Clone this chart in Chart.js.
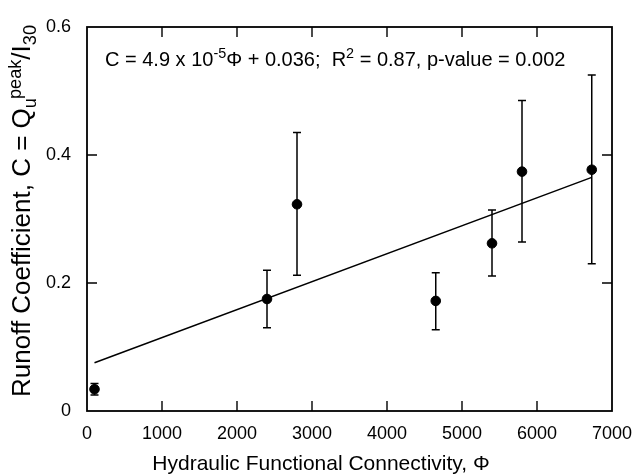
<!DOCTYPE html>
<html>
<head>
<meta charset="utf-8">
<script src="https://cdn.jsdelivr.net/npm/chart.js@4/dist/chart.umd.min.js"></script>
<style>
html, body { margin: 0; padding: 0; background: #fff; }
#wrap { width: 635px; height: 476px; }
</style>
</head>
<body>
<div id="wrap"><canvas id="c" width="635" height="476"></canvas></div>
<script>
const phi = [100, 2400, 2800, 4650, 5400, 5800, 6730];
const coef = [0.034, 0.175, 0.323, 0.172, 0.262, 0.374, 0.377];
const errLow = [0.025, 0.130, 0.212, 0.127, 0.211, 0.264, 0.230];
const errHigh = [0.043, 0.220, 0.435, 0.216, 0.314, 0.485, 0.525];

// regressielijn
const fitPhi = [100, 6730];
const fitC = [0.0755, 0.365];

const xTicks = [0, 1000, 2000, 3000, 4000, 5000, 6000, 7000];
const yTicks = [0, 0.2, 0.4, 0.6];

const FONT = '"Liberation Sans", Arial, Helvetica, sans-serif';

// tekst met super/subscript stukjes tekenen
function drawRich(ctx, parts, x, y, size) {
    parts.forEach(p => {
        const fs = p.s ? size * 0.72 : size;
        ctx.font = fs + 'px ' + FONT;
        let dy = 0;
        if (p.s === 'sup') dy = -size * 0.4;
        if (p.s === 'sub') dy = size * 0.2;
        ctx.fillText(p.t, x, y + dy);
        x += ctx.measureText(p.t).width;
    });
}

const extras = {
    id: 'extras',
    beforeDatasetsDraw(chart) {
        const ctx = chart.ctx;
        const xs = chart.scales.x, ys = chart.scales.y;
        ctx.save();
        ctx.strokeStyle = '#000';
        ctx.lineWidth = 1.5;
        phi.forEach((p, i) => {
            const x = xs.getPixelForValue(p);
            const y1 = ys.getPixelForValue(errLow[i]);
            const y2 = ys.getPixelForValue(errHigh[i]);
            ctx.beginPath();
            ctx.moveTo(x, y1); ctx.lineTo(x, y2);
            ctx.moveTo(x - 4, y1); ctx.lineTo(x + 4, y1);
            ctx.moveTo(x - 4, y2); ctx.lineTo(x + 4, y2);
            ctx.stroke();
        });
        ctx.restore();
    },
    afterDraw(chart) {
        const ctx = chart.ctx;
        const a = chart.chartArea;
        const xs = chart.scales.x, ys = chart.scales.y;
        ctx.save();
        // kader
        ctx.strokeStyle = '#000';
        ctx.lineWidth = 1.8;
        ctx.strokeRect(a.left, a.top, a.right - a.left, a.bottom - a.top);
        // tick marks naar binnen
        ctx.lineWidth = 1.4;
        ctx.beginPath();
        xTicks.slice(1, -1).forEach(v => {
            const x = xs.getPixelForValue(v);
            ctx.moveTo(x, a.bottom); ctx.lineTo(x, a.bottom - 10);
            ctx.moveTo(x, a.top); ctx.lineTo(x, a.top + 10);
        });
        yTicks.slice(1, -1).forEach(v => {
            const y = ys.getPixelForValue(v);
            ctx.moveTo(a.left, y); ctx.lineTo(a.left + 10, y);
            ctx.moveTo(a.right, y); ctx.lineTo(a.right - 10, y);
        });
        ctx.stroke();

        ctx.fillStyle = '#000';
        ctx.textBaseline = 'alphabetic';
        ctx.textAlign = 'left';
        // vergelijking
        const eq = [
            { t: 'C = 4.9 x 10' }, { t: '-5', s: 'sup' }, { t: '\u03A6 + 0.036;  R' },
            { t: '2', s: 'sup' }, { t: ' = 0.87, p-value = 0.002' }
        ];
        drawRich(ctx, eq, 105, 66, 20);

        // x-as titel
        ctx.font = '21px ' + FONT;
        ctx.textAlign = 'center';
        ctx.fillText('Hydraulic Functional Connectivity, \u03A6', 321, 470);
        ctx.textAlign = 'left';

        // y-as titel, 'peak' begint boven de 'u'
        const size = 26, small = size * 0.7;
        ctx.translate(30, 211);
        ctx.rotate(-Math.PI / 2);
        ctx.font = size + 'px ' + FONT;
        const w0 = ctx.measureText('Runoff Coefficient, C = Q').width;
        const w2 = ctx.measureText('/I').width;
        ctx.font = small + 'px ' + FONT;
        const uw = ctx.measureText('u').width;
        const pw = ctx.measureText('peak').width;
        const w3 = ctx.measureText('30').width;
        let x = -(w0 + uw * 0.9 + pw + w2 + w3) / 2;
        ctx.font = size + 'px ' + FONT;
        ctx.fillText('Runoff Coefficient, C = Q', x, 0);
        x += w0;
        ctx.font = small + 'px ' + FONT;
        ctx.fillText('u', x, size * 0.22);
        ctx.fillText('peak', x + uw * 0.9, -size * 0.36);
        x += uw * 0.9 + pw;
        ctx.font = size + 'px ' + FONT;
        ctx.fillText('/I', x, 0);
        x += w2;
        ctx.font = small + 'px ' + FONT;
        ctx.fillText('30', x, size * 0.22);
        ctx.restore();
    }
};

const ctx = document.getElementById('c').getContext('2d');
const chart = new Chart(ctx, {
    type: 'scatter',
    data: {
        datasets: [{
            label: 'fit',
            data: fitPhi.map((p, i) => ({ x: p, y: fitC[i] })),
            showLine: true,
            borderColor: '#000',
            borderWidth: 1.5,
            pointRadius: 0
        }, {
            label: 'C',
            data: phi.map((p, i) => ({ x: p, y: coef[i] })),
            backgroundColor: '#000',
            borderColor: '#000',
            pointRadius: 4.8,
            pointHoverRadius: 4.8
        }]
    },
    options: {
        responsive: false,
        animation: false,
        devicePixelRatio: 1,
        layout: { padding: { top: 27, right: 23, left: 0, bottom: 0 } },
        plugins: { legend: { display: false }, tooltip: { enabled: false } },
        scales: {
            x: {
                type: 'linear',
                min: 0, max: 7000,
                afterBuildTicks: s => { s.ticks = xTicks.map(v => ({ value: v })); },
                afterFit: s => { s.height = 65; s.paddingRight = 0; s.paddingLeft = 0; },
                grid: { display: false, drawTicks: false },
                border: { display: false },
                ticks: {
                    color: '#000', font: { family: FONT, size: 18 }, padding: 12, maxRotation: 0,
                    callback: v => String(v)
                }
            },
            y: {
                min: 0, max: 0.6,
                afterBuildTicks: s => { s.ticks = yTicks.map(v => ({ value: v })); },
                afterFit: s => { s.width = 87; s.paddingTop = 0; s.paddingBottom = 0; },
                grid: { display: false, drawTicks: false },
                border: { display: false },
                ticks: {
                    color: '#000', font: { family: FONT, size: 18 }, padding: 16,
                    callback: v => String(Math.round(v * 10) / 10)
                }
            }
        }
    },
    plugins: [extras]
});
</script>
</body>
</html>
